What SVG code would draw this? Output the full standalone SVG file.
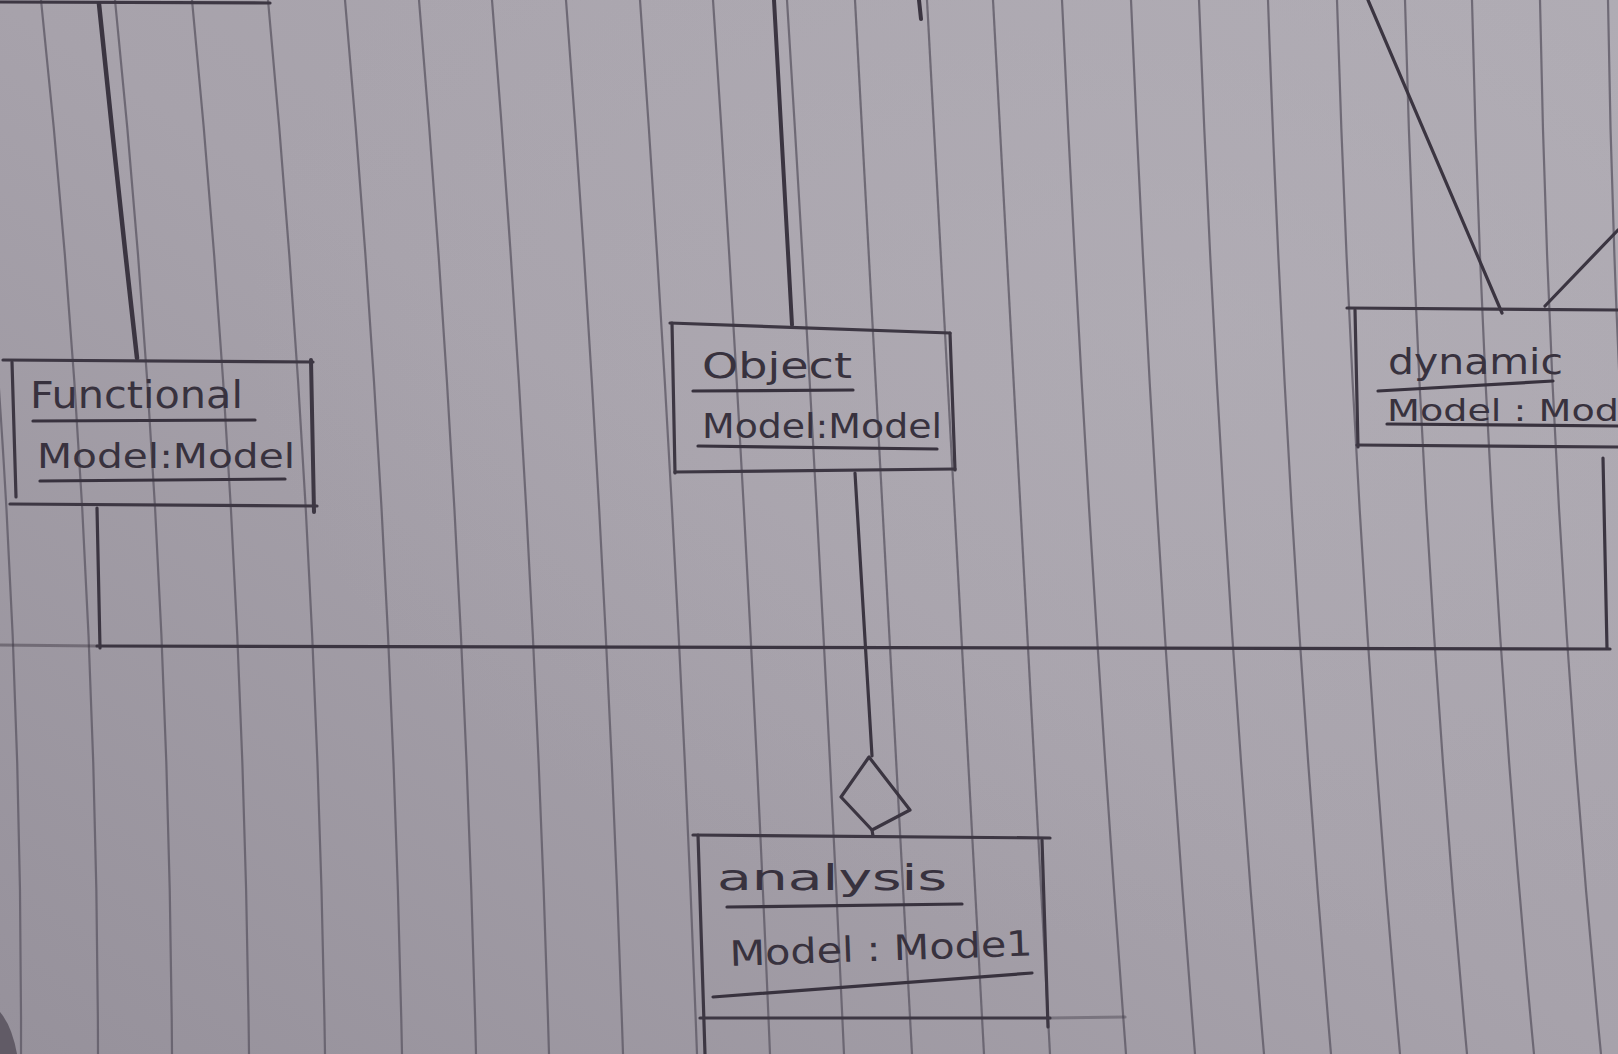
<svg xmlns="http://www.w3.org/2000/svg" width="1618" height="1054" viewBox="0 0 1618 1054">
<defs>
<linearGradient id="paper" x1="1" y1="0" x2="0" y2="1">
<stop offset="0" stop-color="#afabb3"/>
<stop offset="0.5" stop-color="#a7a2ab"/>
<stop offset="1" stop-color="#96919b"/>
</linearGradient>
<radialGradient id="glow" cx="0.75" cy="0.3" r="0.6">
<stop offset="0" stop-color="#b4b0b8" stop-opacity="0.5"/>
<stop offset="1" stop-color="#b4b0b8" stop-opacity="0"/>
</radialGradient>
<style>
.rule{fill:none;stroke:#5f5a66;stroke-width:2.2;opacity:0.8}
.edge{fill:none;stroke:#3d3743;stroke-width:3.2;stroke-linecap:round}
.conn{fill:none;stroke:#3b3541;stroke-width:3.2;stroke-linecap:round;stroke-linejoin:round}
.ul{fill:none;stroke:#38323e;stroke-width:3.2;stroke-linecap:round}
.t{font-family:"DejaVu Sans","Liberation Sans",sans-serif;fill:#38323e}
</style>
</defs>
<rect width="1618" height="1054" fill="url(#paper)"/>
<rect width="1618" height="1054" fill="url(#glow)"/>
<path d="M0 1054 L0 1012 Q12 1026 17 1054 Z" fill="#4a4550" opacity="0.7"/>
<g id="ruling">
<path class="rule" d="M-36 0 Q22.4 527 21 1054"/>
<path class="rule" d="M41 0 Q97 527 98 1054"/>
<path class="rule" d="M115 0 Q168.7 527 172 1054"/>
<path class="rule" d="M192 0 Q243.3 527 249 1054"/>
<path class="rule" d="M268 0 Q317 527 325 1054"/>
<path class="rule" d="M345 0 Q391.6 527 402 1054"/>
<path class="rule" d="M419 0 Q463.3 527 476 1054"/>
<path class="rule" d="M492 0 Q534 527 549 1054"/>
<path class="rule" d="M566 0 Q605.8 527 623 1054"/>
<path class="rule" d="M640 0 Q677.5 527 697 1054"/>
<path class="rule" d="M713 0 Q748.2 527 770 1054"/>
<path class="rule" d="M787 0 Q819.9 527 844 1054"/>
<path class="rule" d="M855 0 Q885.8 527 912 1054"/>
<path class="rule" d="M927 0 Q955.6 527 984 1054"/>
<path class="rule" d="M993 0 Q1019.5 527 1050 1054"/>
<path class="rule" d="M1062 0 Q1086.4 527 1126 1054"/>
<path class="rule" d="M1131 0 Q1153.2 527 1195 1054"/>
<path class="rule" d="M1199 0 Q1219.1 527 1264 1054"/>
<path class="rule" d="M1268 0 Q1286 527 1331 1054"/>
<path class="rule" d="M1337 0 Q1352.9 527 1400 1054"/>
<path class="rule" d="M1405 0 Q1418.7 527 1467 1054"/>
<path class="rule" d="M1472 0 Q1483.7 527 1534 1054"/>
<path class="rule" d="M1540 0 Q1549.6 527 1601 1054"/>
<path class="rule" d="M1608 0 Q1615.5 527 1670 1054"/>
</g>
<g id="connectors">
<path class="edge" d="M0 2 L270 3"/>
<path class="conn" style="stroke-width:4.5" d="M99 4 Q117 180 137 358"/>
<path class="conn" d="M97 508 L100 648"/>
<path class="conn" style="opacity:0.45" d="M0 645 L97 646"/>
<path class="conn" d="M97 646 L1610 649"/>
<path class="conn" d="M1603 458 L1607 648"/>
<path class="conn" style="stroke-width:4" d="M774 0 L792 325"/>
<path class="conn" style="stroke-width:4" d="M919 0 L921 19"/>
<path class="conn" d="M855 473 L872 756"/>
<path class="conn" d="M869 757 L841 797 L872 830 L910 810 Z"/>
<path class="conn" d="M872 830 L873 836"/>
<path class="conn" d="M1368 0 L1502 313"/>
<path class="conn" d="M1618 230 L1545 306"/>
</g>
<g id="functional">
<path class="edge" d="M3 360 L313 362"/>
<path class="edge" d="M12 362 L16 497"/>
<path class="edge" style="stroke-width:4" d="M311 360 L314 512"/>
<path class="edge" d="M10 504 L317 506"/>
<text class="t" x="30" y="408" font-size="37" textLength="213" lengthAdjust="spacingAndGlyphs">Functional</text>
<path class="ul" d="M33 421 L255 420"/>
<text class="t" x="37" y="468" font-size="34" textLength="258" lengthAdjust="spacingAndGlyphs">Model:Model</text>
<path class="ul" d="M40 481 L285 479"/>
</g>
<g id="object">
<path class="edge" d="M670 323 L950 333"/>
<path class="edge" d="M672 323 L675 473"/>
<path class="edge" d="M950 333 L955 470"/>
<path class="edge" d="M675 472 L955 469"/>
<text class="t" x="702" y="378" font-size="36" textLength="150" lengthAdjust="spacingAndGlyphs">Object</text>
<path class="ul" d="M693 391 L853 390"/>
<text class="t" x="702" y="438" font-size="34" textLength="240" lengthAdjust="spacingAndGlyphs">Model:Model</text>
<path class="ul" d="M698 446 L937 449"/>
</g>
<g id="dynamic">
<path class="edge" d="M1347 308 L1618 310"/>
<path class="edge" d="M1355 310 L1358 447"/>
<path class="edge" d="M1357 445 L1618 447"/>
<text class="t" x="1388" y="374" font-size="36" textLength="175" lengthAdjust="spacingAndGlyphs">dynamic</text>
<path class="ul" d="M1378 391 L1553 381"/>
<text class="t" x="1387" y="421" font-size="31" textLength="266" lengthAdjust="spacingAndGlyphs">Model : Model</text>
<path class="ul" d="M1387 424 L1618 426"/>
</g>
<g id="analysis">
<path class="edge" d="M693 835 L1050 838"/>
<path class="edge" d="M698 835 L705 1054"/>
<path class="edge" d="M1042 840 L1048 1027"/>
<path class="edge" d="M700 1018 L1050 1018"/>
<path class="edge" style="opacity:0.4" d="M1050 1018 L1125 1017"/>
<text class="t" x="717" y="890" font-size="36" textLength="230" lengthAdjust="spacingAndGlyphs">analysis</text>
<path class="ul" d="M727 907 L962 904"/>
<text class="t" x="730" y="966" font-size="35" textLength="303" lengthAdjust="spacingAndGlyphs" transform="rotate(-2 730 966)">Model : Mode1</text>
<path class="ul" d="M713 997 L1032 973"/>
</g>
</svg>
